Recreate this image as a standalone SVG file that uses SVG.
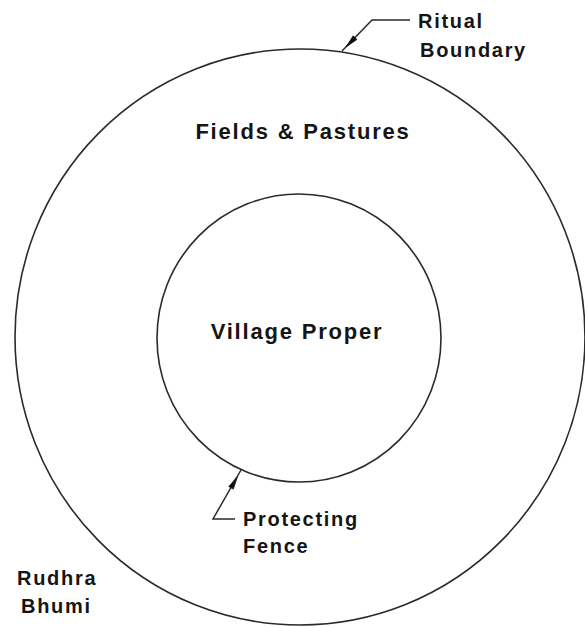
<svg xmlns="http://www.w3.org/2000/svg" width="585" height="627" viewBox="0 0 585 627">
<style>
.ring{fill:none;stroke:#2a2a2a;stroke-width:1.6}
.lead{fill:none;stroke:#2a2a2a;stroke-width:1.5}
.ah{fill:#111;stroke:#111;stroke-width:0.8;stroke-linejoin:round}
.lbl{font-family:"Liberation Sans",Arial,sans-serif;font-weight:bold;font-size:20px;letter-spacing:1.7px;fill:#151515}
.big{font-size:22px;letter-spacing:1.8px;text-anchor:middle}
</style>
<rect width="585" height="627" fill="#fff"/>
<g id="outer-ring">
<ellipse class="ring" cx="300" cy="337" rx="285" ry="288"/>
<text class="lbl big" x="303" y="139">Fields &amp; Pastures</text>
</g>
<g id="inner-ring">
<ellipse class="ring" cx="299" cy="338" rx="142" ry="144"/>
<text class="lbl big" x="297" y="339">Village Proper</text>
</g>
<g id="ritual-boundary">
<text class="lbl" x="418" y="28">Ritual</text>
<text class="lbl" x="420" y="57">Boundary</text>
</g>
<g id="protecting-fence">
<text class="lbl" x="243" y="526">Protecting</text>
<text class="lbl" x="243" y="553">Fence</text>
</g>
<g id="rudhra-bhumi">
<text class="lbl" x="17" y="585">Rudhra</text>
<text class="lbl" x="21" y="613">Bhumi</text>
</g>
<g id="connectors">
<path class="lead" d="M410 20 H372 L342 51"/>
<polygon class="ah" points="346,47 356.9,39.5 353.2,35.8"/>
<path class="lead" d="M235 519 H213 L241 470"/>
<polygon class="ah" points="237.5,476.5 233.3,489.1 228.8,486.5"/>
</g>
</svg>
